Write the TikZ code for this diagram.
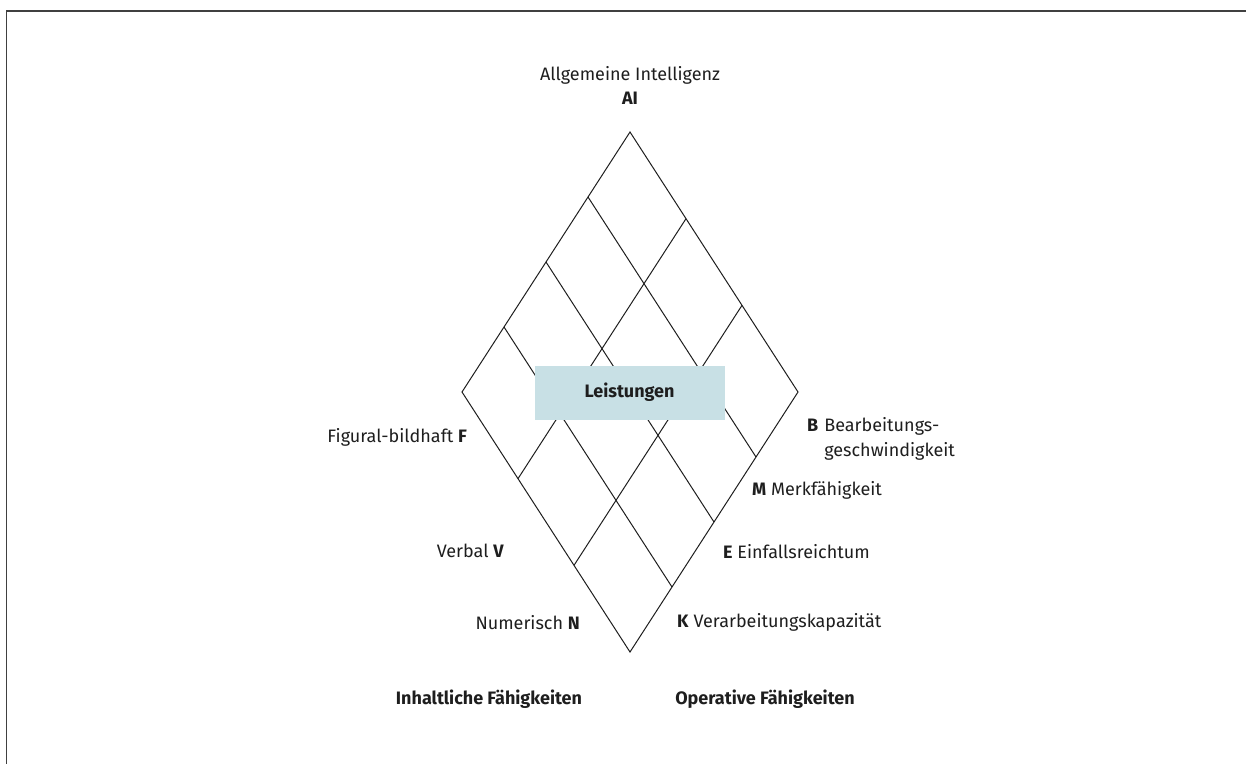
\documentclass[tikz,border=0pt]{standalone}
\usepackage{fontspec}
\setmainfont{Fira Sans}
\usetikzlibrary{calc}
\definecolor{boxfill}{HTML}{C8E0E5}
\definecolor{ink}{HTML}{1E1E1E}
\begin{document}
\begin{tikzpicture}[x=1pt,y=-1pt,
  lbl/.style={font=\fontsize{18}{25}\selectfont, text=ink, inner sep=0pt},
  blbl/.style={font=\fontsize{18}{25}\selectfont\bfseries, text=ink, inner sep=0pt},
  gridline/.style={draw=ink, line width=1pt},
  framestyle/.style={draw=ink!85, line width=1.8pt}]
\useasboundingbox (0,0) rectangle (1246,764);
% frame (top and left only)
\coordinate (f1) at (1246,11);
\coordinate (f2) at (6.5,11);
\coordinate (f3) at (6.5,764);
\draw[framestyle] (f1) -- (f2) -- (f3);
% diamond
\coordinate (T) at (630,132);
\coordinate (L) at (462,392);
\coordinate (R) at (798,392);
\coordinate (B) at (630,652);
\draw[gridline, line join=miter] (T) -- (R) -- (B) -- (L) -- cycle;
\foreach \k in {1,2,3} {
  \draw[gridline] ($(T)!\k/4!(L)$) -- ($(R)!\k/4!(B)$);
}
\foreach \k in {1,2} {
  \draw[gridline] ($(L)!\k/3!(B)$) -- ($(T)!\k/3!(R)$);
}
% central box
\node[fill=boxfill, minimum width=190pt, minimum height=54pt, inner sep=0pt,
  blbl] (leist) at (629.5,392.5) {Leistungen};
% top label
\node[lbl] (ai1) at (630,75) {Allgemeine Intelligenz};
\node[blbl] (ai2) at (630,98) {AI};
% left labels
\node[lbl, anchor=east] (F) at (467,437) {Figural-bildhaft \textbf{F}};
\node[lbl, anchor=east] (V) at (504,551) {Verbal \textbf{V}};
\node[lbl, anchor=east] (N) at (580,623) {Numerisch \textbf{N}};
% right labels
\node[lbl, anchor=base west, align=left] (Bl) at (807,431) {\textbf{B}\hspace{6pt}\begin{tabular}[t]{@{}l@{}}Bearbeitungs-\\geschwindigkeit\end{tabular}};
\node[lbl, anchor=west] (M) at (752,490) {\textbf{M} Merkfähigkeit};
\node[lbl, anchor=west] (E) at (723,552) {\textbf{E} Einfallsreichtum};
\node[lbl, anchor=west] (K) at (677,622) {\textbf{K} Verarbeitungskapazität};
% bottom labels
\node[blbl] (inh) at (489,699) {Inhaltliche Fähigkeiten};
\node[blbl] (op) at (765,699) {Operative Fähigkeiten};
\end{tikzpicture}
\end{document}
